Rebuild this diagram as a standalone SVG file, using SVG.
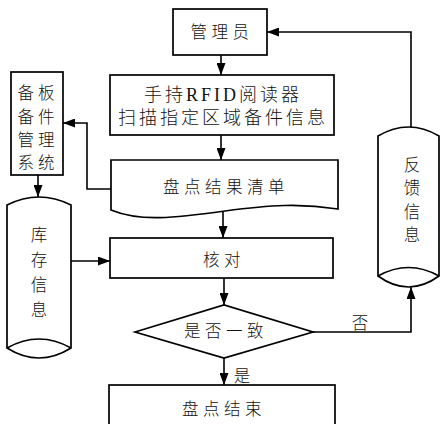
<svg xmlns="http://www.w3.org/2000/svg" width="441" height="424" viewBox="0 0 441 424">
<style>
.s{fill:#fff;stroke:#000;stroke-width:1.7}
.c{fill:none;stroke:#000;stroke-width:1.6}
text{font-family:"Liberation Serif","Noto Sans CJK SC",serif;font-size:16.5px;font-weight:300;fill:#111;text-anchor:middle;dominant-baseline:central}
.ls{letter-spacing:4.5px}
</style>
<defs>
<marker id="a" markerUnits="userSpaceOnUse" markerWidth="12" markerHeight="9" refX="12" refY="4.5" orient="auto">
<path d="M0,0 L12,4.5 L0,9 Z" fill="#000"/>
</marker>
</defs>
<g id="connectors">
<path class="c" d="M221,55 V75" marker-end="url(#a)"/>
<path class="c" d="M221,135 V160" marker-end="url(#a)"/>
<path class="c" d="M223,211 V238" marker-end="url(#a)"/>
<path class="c" d="M224,278 V305" marker-end="url(#a)"/>
<path class="c" d="M224,358 V385" marker-end="url(#a)"/>
<path class="c" d="M313,332 H411 V287" marker-end="url(#a)"/>
<path class="c" d="M411,127 V32 H267" marker-end="url(#a)"/>
<path class="c" d="M111,189 H87 V123 H63" marker-end="url(#a)"/>
<path class="c" d="M38,175 V197" marker-end="url(#a)"/>
<path class="c" d="M71,261 H110" marker-end="url(#a)"/>
<text x="360" y="323">否</text>
<text x="242" y="376">是</text>
</g>
<g id="admin">
<rect class="s" x="173" y="9" width="94" height="46"/>
<text class="ls" x="222" y="32">管理员</text>
</g>
<g id="rfid">
<rect class="s" x="110" y="75" width="224" height="60"/>
<text x="223" y="95" style="font-size:18px;letter-spacing:3px">手持RFID阅读器</text>
<text x="223" y="118" style="font-size:18px;letter-spacing:3px">扫描指定区域备件信息</text>
</g>
<g id="system">
<rect class="s" x="11" y="72" width="52" height="103"/>
<text x="38" y="93" style="letter-spacing:4px">备板</text>
<text x="38" y="117" style="letter-spacing:4px">备件</text>
<text x="38" y="140" style="letter-spacing:4px">管理</text>
<text x="38" y="163" style="letter-spacing:4px">系统</text>
</g>
<g id="list">
<path class="s" d="M111,160 H338 V209 C300,203 270,205 225,211 C175,218 140,222 111,210 Z"/>
<text class="ls" x="226" y="187">盘点结果清单</text>
</g>
<g id="stock">
<path class="s" d="M7,205 Q39,189 71,205 V348 Q39,368 7,348 Z"/>
<path class="c" d="M7,348 Q39,330 71,348"/>
<text x="39" y="235">库</text>
<text x="39" y="260">存</text>
<text x="39" y="285">信</text>
<text x="39" y="310">息</text>
</g>
<g id="check">
<rect class="s" x="110" y="238" width="223" height="40"/>
<text class="ls" x="224" y="260">核对</text>
</g>
<g id="decision">
<path class="s" d="M135,332 L224,305 L313,332 L224,358 Z"/>
<text class="ls" x="226" y="331">是否一致</text>
</g>
<g id="feedback">
<path class="s" d="M378,136 Q408.5,118 439,136 V276 Q408.5,298 378,276 Z"/>
<path class="c" d="M378,276 Q408.5,259 439,276"/>
<text x="412" y="165">反</text>
<text x="412" y="188">馈</text>
<text x="412" y="212">信</text>
<text x="412" y="235">息</text>
</g>
<g id="end">
<rect class="s" x="109" y="385" width="226" height="50"/>
<text class="ls" x="224" y="409">盘点结束</text>
</g>
</svg>
